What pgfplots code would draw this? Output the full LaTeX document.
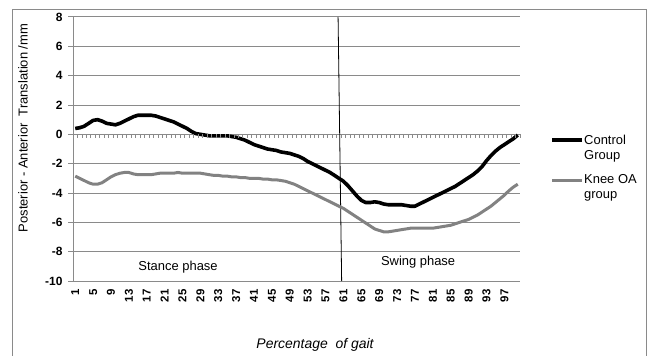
\documentclass[border=0pt]{standalone}
\usepackage{pgfplots}
\pgfplotsset{compat=1.18}
\usepackage{fontspec}
\setmainfont{Liberation Sans}
\definecolor{gridgray}{RGB}{138,138,138}
\definecolor{oagray}{RGB}{130,130,130}
\pgfplotstableread{
c ctrl oa
1 0.40 -2.85
2 0.45 -3.00
3 0.55 -3.15
4 0.75 -3.30
5 0.95 -3.40
6 1.00 -3.40
7 0.90 -3.30
8 0.75 -3.10
9 0.70 -2.90
10 0.65 -2.75
11 0.75 -2.65
12 0.90 -2.60
13 1.05 -2.60
14 1.20 -2.70
15 1.30 -2.75
16 1.30 -2.75
17 1.30 -2.75
18 1.30 -2.75
19 1.25 -2.70
20 1.15 -2.65
21 1.05 -2.65
22 0.95 -2.65
23 0.85 -2.65
24 0.70 -2.60
25 0.55 -2.65
26 0.40 -2.65
27 0.20 -2.65
28 0.05 -2.65
29 0.00 -2.65
30 -0.05 -2.70
31 -0.10 -2.75
32 -0.10 -2.80
33 -0.10 -2.80
34 -0.10 -2.85
35 -0.10 -2.85
36 -0.15 -2.90
37 -0.20 -2.90
38 -0.30 -2.95
39 -0.40 -2.95
40 -0.55 -3.00
41 -0.70 -3.00
42 -0.80 -3.00
43 -0.90 -3.05
44 -1.00 -3.05
45 -1.05 -3.10
46 -1.10 -3.10
47 -1.20 -3.15
48 -1.25 -3.20
49 -1.30 -3.30
50 -1.40 -3.40
51 -1.50 -3.55
52 -1.65 -3.70
53 -1.85 -3.85
54 -2.00 -4.00
55 -2.15 -4.15
56 -2.30 -4.30
57 -2.45 -4.45
58 -2.60 -4.60
59 -2.80 -4.75
60 -3.00 -4.90
61 -3.20 -5.05
62 -3.50 -5.25
63 -3.85 -5.45
64 -4.20 -5.65
65 -4.50 -5.85
66 -4.65 -6.05
67 -4.65 -6.25
68 -4.60 -6.45
69 -4.65 -6.55
70 -4.75 -6.65
71 -4.80 -6.65
72 -4.80 -6.60
73 -4.80 -6.55
74 -4.80 -6.50
75 -4.85 -6.45
76 -4.90 -6.40
77 -4.90 -6.40
78 -4.75 -6.40
79 -4.60 -6.40
80 -4.45 -6.40
81 -4.30 -6.40
82 -4.15 -6.35
83 -4.00 -6.30
84 -3.85 -6.25
85 -3.70 -6.20
86 -3.55 -6.10
87 -3.35 -6.00
88 -3.15 -5.90
89 -2.95 -5.80
90 -2.75 -5.65
91 -2.50 -5.50
92 -2.20 -5.30
93 -1.80 -5.10
94 -1.45 -4.90
95 -1.15 -4.65
96 -0.90 -4.40
97 -0.70 -4.15
98 -0.50 -3.85
99 -0.30 -3.60
100 -0.05 -3.40
}\gaitdata
\begin{document}
\begin{tikzpicture}[x=1bp,y=1bp]
\path[use as bounding box] (0,0) rectangle (650,355);
\begin{axis}[
  at={(73bp,74bp)}, anchor=south west,
  scale only axis, width=447bp, height=264bp,
  xmin=0.5, xmax=100.5, ymin=-10, ymax=8,
  ytick={-10,-8,...,8}, xtick={1,5,...,97},
  ymajorgrids, grid style={gridgray, line width=1bp},
  axis line style={draw=none},
  xtick pos=bottom, ytick pos=left,
  xtick style={draw=none},
  ytick style={gridgray, line width=1bp},
  tick align=outside, major tick length=5bp,
  /pgf/number format/assume math mode=true,
  yticklabel style={font=\fontsize{12}{12}\selectfont\bfseries, xshift=-2bp},
  xticklabel style={font=\fontsize{11.5}{12}\selectfont\bfseries, rotate=90, anchor=east},
  clip=false,
]
\addplot[gridgray, line width=1bp, forget plot] coordinates {(0.5,-10) (0.5,8)};
\addplot[gridgray, line width=1bp, forget plot] coordinates {(0.5,0) (100.5,0)};
\addplot[black, line width=0.8bp] coordinates {(59.8,8) (60.6,-10)};
\addplot[oagray, line width=3bp, line join=round] table[x=c, y=oa] {\gaitdata};
\addplot[black, line width=3.6bp, line join=round] table[x=c, y=ctrl] {\gaitdata};
\node[font=\fontsize{13}{15}\selectfont] at (axis cs:24,-9.05) {Stance phase};
\node[font=\fontsize{13}{15}\selectfont] at (axis cs:77.7,-8.7) {Swing phase};
\end{axis}
\foreach \i in {0,...,100}{
  \draw[gridgray, line width=0.8bp] ({73+4.47*\i},220.7) -- ({73+4.47*\i},217);
}
\draw[gridgray, line width=1.3bp] (12.5,-5) -- (12.5,345.5) -- (646.5,345.5) -- (646.5,-5);
\node[rotate=90, font=\fontsize{13}{15}\selectfont] at (23,227) {Posterior - Anterior\ \ Translation\ /mm};
\node[font=\fontsize{14}{16}\selectfont\itshape] at (315,10) {Percentage\ \ of gait};
\draw[black, line width=3.6bp] (552,215) -- (582,215);
\node[anchor=north west, align=left, inner sep=0pt, font=\fontsize{13}{15}\selectfont] at (584,220.5) {Control\\Group};
\draw[oagray, line width=3bp] (552,175) -- (582,175);
\node[anchor=north west, align=left, inner sep=0pt, font=\fontsize{13}{15}\selectfont] at (584,180.5) {Knee OA\\group};
\end{tikzpicture}
\end{document}
